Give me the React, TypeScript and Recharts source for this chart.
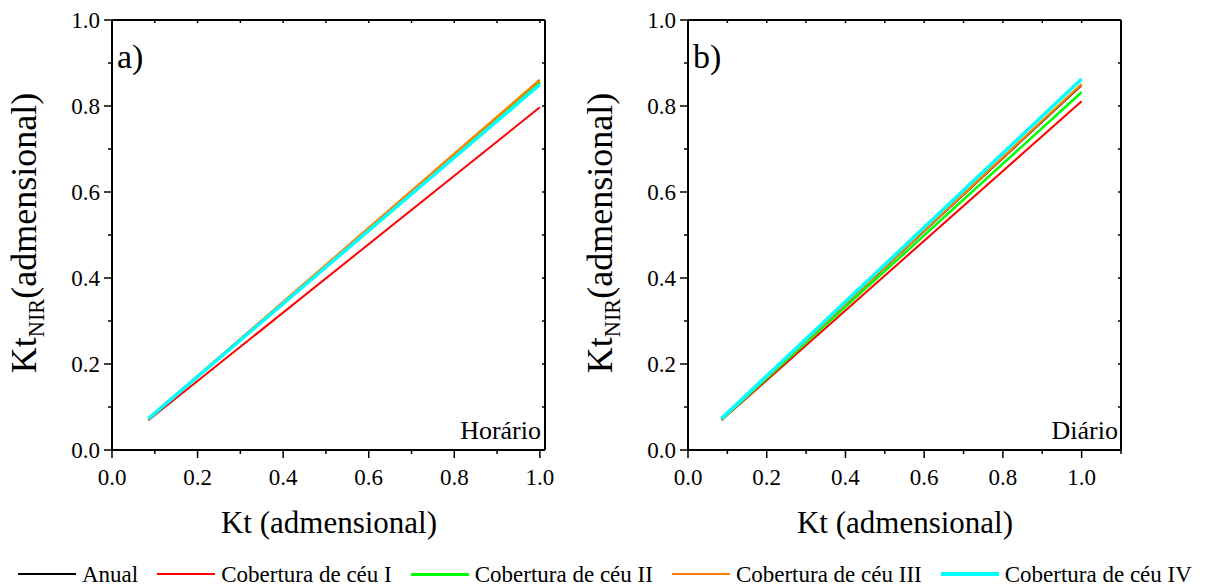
import React from 'react';
import { LineChart, Line, XAxis, YAxis } from 'recharts';

// Kt range covered by the fitted lines
const ktValues = [0.085, 1.0];

// a) Horário
const horarioAnual = [0.072, 0.855];
const horarioCeuI = [0.069, 0.797];
const horarioCeuII = [0.072, 0.856];
const horarioCeuIII = [0.073, 0.861];
const horarioCeuIV = [0.073, 0.85];

// b) Diário
const diarioAnual = [0.071, 0.848];
const diarioCeuI = [0.069, 0.811];
const diarioCeuII = [0.071, 0.832];
const diarioCeuIII = [0.072, 0.851];
const diarioCeuIV = [0.073, 0.863];

const yTicks = [0, 0.1, 0.2, 0.3, 0.4, 0.5, 0.6, 0.7, 0.8, 0.9, 1.0];
const xTicksA = [0, 0.1, 0.2, 0.3, 0.4, 0.5, 0.6, 0.7, 0.8, 0.9, 1.0];
const xTicksB = [0, 0.1, 0.2, 0.3, 0.4, 0.5, 0.6, 0.7, 0.8, 0.9, 1.0, 1.1];

const series = [
  { key: 'anual', name: 'Anual', color: '#000000', width: 1.5, legendWidth: 1.5 },
  { key: 'ceuI', name: 'Cobertura de céu I', color: '#ff0000', width: 2, legendWidth: 2 },
  { key: 'ceuII', name: 'Cobertura de céu II', color: '#00ff00', width: 2.5, legendWidth: 3 },
  { key: 'ceuIII', name: 'Cobertura de céu III', color: '#ff8000', width: 2.5, legendWidth: 2 },
  { key: 'ceuIV', name: 'Cobertura de céu IV', color: '#00ffff', width: 3.5, legendWidth: 4 },
];

const buildRows = (a: number[], i1: number[], i2: number[], i3: number[], i4: number[]) =>
  ktValues.map((kt, i) => ({ kt, anual: a[i], ceuI: i1[i], ceuII: i2[i], ceuIII: i3[i], ceuIV: i4[i] }));

const dataA = buildRows(horarioAnual, horarioCeuI, horarioCeuII, horarioCeuIII, horarioCeuIV);
const dataB = buildRows(diarioAnual, diarioCeuI, diarioCeuII, diarioCeuIII, diarioCeuIV);

const FONT = '"Liberation Serif", "Times New Roman", serif';

const isMajor = (v: number) => Math.round(v * 10) % 2 === 0;

const BottomTick = (props: any) => {
  const { x, y, payload } = props;
  const major = isMajor(payload.value);
  return (
    <g>
      <line x1={x} x2={x} y1={y} y2={y + (major ? 8 : 4)} stroke="#000" strokeWidth={1.5} />
      {major && (
        <text x={x} y={y + 27} dy="0.35em" textAnchor="middle" fontSize={23} fontFamily={FONT} fill="#000">
          {payload.value.toFixed(1)}
        </text>
      )}
    </g>
  );
};

const LeftTick = (props: any) => {
  const { x, y, payload } = props;
  const major = isMajor(payload.value);
  return (
    <g>
      <line x1={x} x2={x - (major ? 8 : 4)} y1={y} y2={y} stroke="#000" strokeWidth={1.5} />
      {major && (
        <text x={x - 12} y={y} dy="0.35em" textAnchor="end" fontSize={23} fontFamily={FONT} fill="#000">
          {payload.value.toFixed(1)}
        </text>
      )}
    </g>
  );
};

const TopTick = (props: any) => {
  const { x, y } = props;
  return <line x1={x} x2={x} y1={y} y2={y + 3} stroke="#000" strokeWidth={1.5} />;
};

const RightTick = (props: any) => {
  const { x, y } = props;
  return <line x1={x} x2={x - 3} y1={y} y2={y} stroke="#000" strokeWidth={1.5} />;
};

const Panel: React.FC<{ data: any[]; xMax: number; xTicks: number[]; left: number; width: number; margin: any }> = ({
  data,
  xMax,
  xTicks,
  left,
  width,
  margin,
}) => (
  <div style={{ position: 'absolute', left, top: 0 }}>
    <LineChart width={width} height={540} data={data} margin={margin}>
      <XAxis
        dataKey="kt"
        type="number"
        domain={[0, xMax]}
        ticks={xTicks}
        interval={0}
        height={1}
        tickSize={0}
        tickMargin={0}
        tickLine={false}
        tick={<BottomTick />}
        axisLine={{ stroke: '#000', strokeWidth: 2 }}
        allowDataOverflow
      />
      <XAxis
        xAxisId="top"
        orientation="top"
        dataKey="kt"
        type="number"
        domain={[0, xMax]}
        ticks={xTicks}
        interval={0}
        height={1}
        tickSize={0}
        tickMargin={0}
        tickLine={false}
        tick={<TopTick />}
        axisLine={{ stroke: '#000', strokeWidth: 2 }}
        allowDataOverflow
      />
      <YAxis
        type="number"
        domain={[0, 1]}
        ticks={yTicks}
        interval={0}
        width={1}
        tickSize={0}
        tickMargin={0}
        tickLine={false}
        tick={<LeftTick />}
        axisLine={{ stroke: '#000', strokeWidth: 2 }}
        allowDataOverflow
      />
      <YAxis
        yAxisId="right"
        orientation="right"
        type="number"
        domain={[0, 1]}
        ticks={yTicks}
        interval={0}
        width={1}
        tickSize={0}
        tickMargin={0}
        tickLine={false}
        tick={<RightTick />}
        axisLine={{ stroke: '#000', strokeWidth: 2 }}
        allowDataOverflow
      />
      {series.map((s) => (
        <Line
          key={s.key}
          type="linear"
          dataKey={s.key}
          name={s.name}
          stroke={s.color}
          strokeWidth={s.width}
          dot={false}
          activeDot={false}
          isAnimationActive={false}
        />
      ))}
    </LineChart>
  </div>
);

const YTitle: React.FC<{ cx: number }> = ({ cx }) => (
  <div
    style={{
      position: 'absolute',
      left: cx,
      top: 233,
      transform: 'translate(-50%, -50%) rotate(-90deg)',
      whiteSpace: 'nowrap',
      fontSize: 36,
      lineHeight: 1,
    }}
  >
    Kt
    <span style={{ fontSize: '0.62em', verticalAlign: '-0.35em', lineHeight: 0 }}>NIR</span>
    (admensional)
  </div>
);

const XTitle: React.FC<{ cx: number }> = ({ cx }) => (
  <div
    style={{
      position: 'absolute',
      left: cx,
      top: 507,
      transform: 'translateX(-50%)',
      whiteSpace: 'nowrap',
      fontSize: 31,
      lineHeight: 1,
    }}
  >
    Kt (admensional)
  </div>
);

export default function App() {
  return (
    <div
      style={{
        position: 'absolute',
        left: 0,
        top: 0,
        width: 1208,
        height: 586,
        background: '#fff',
        fontFamily: FONT,
        color: '#000',
        overflow: 'hidden',
      }}
    >
      <Panel data={dataA} xMax={1.012} xTicks={xTicksA} left={0} width={560} margin={{ top: 19, right: 14, bottom: 89, left: 111 }} />
      <Panel data={dataB} xMax={1.1} xTicks={xTicksB} left={560} width={648} margin={{ top: 19, right: 86, bottom: 89, left: 127 }} />

      <div style={{ position: 'absolute', left: 117, top: 40, fontSize: 34, lineHeight: 1 }}>a)</div>
      <div style={{ position: 'absolute', left: 693, top: 40, fontSize: 34, lineHeight: 1 }}>b)</div>
      <div style={{ position: 'absolute', right: 1208 - 541, top: 418, fontSize: 26, lineHeight: 1 }}>Horário</div>
      <div style={{ position: 'absolute', right: 1208 - 1118, top: 418, fontSize: 26, lineHeight: 1 }}>Diário</div>

      <YTitle cx={24} />
      <YTitle cx={600} />
      <XTitle cx={329} />
      <XTitle cx={905} />

      <div
        style={{
          position: 'absolute',
          left: 18,
          top: 562,
          height: 24,
          display: 'flex',
          alignItems: 'center',
          gap: 19,
          fontSize: 23,
          lineHeight: 1,
          whiteSpace: 'nowrap',
        }}
      >
        {series.map((s) => (
          <div key={s.key} style={{ display: 'flex', alignItems: 'center', gap: 6 }}>
            <div style={{ width: 58, height: s.legendWidth, background: s.color }} />
            <span>{s.name}</span>
          </div>
        ))}
      </div>
    </div>
  );
}
